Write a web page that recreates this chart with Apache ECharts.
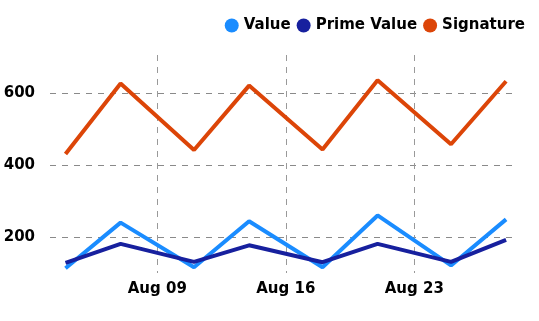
<!DOCTYPE html>
<html>
<head>
<meta charset="utf-8">
<script src="https://cdn.jsdelivr.net/npm/echarts@6/dist/echarts.min.js"></script>
<style>
html,body{margin:0;padding:0;background:#fff;}
#chart{width:539px;height:321px;}
</style>
</head>
<body>
<div id="chart"></div>
<script>
// ---- data ----
var dates = ['2020-08-04','2020-08-07','2020-08-11','2020-08-14','2020-08-18','2020-08-21','2020-08-25','2020-08-28'];
var valueSeries = [113, 240, 116, 244, 116, 260, 121, 249];
var primeValueSeries = [128, 181, 131, 177, 130, 181, 131, 192];
var signatureSeries = [431, 627, 442, 621, 443, 636, 458, 633];
var xTickDates = ['2020-08-09','2020-08-16','2020-08-23'];
var yTickValues = [200, 400, 600];
var seriesNames = ['Value', 'Prime Value', 'Signature'];
var colors = ['#1a8cff', '#17209e', '#dc4508'];

function toUTC(s){ var p = s.split('-'); return Date.UTC(+p[0], +p[1]-1, +p[2]); }
var DAY = 86400000;
var xMin = toUTC('2020-08-03') + 0.155 * DAY;
var xMax = toUTC('2020-08-28') + 0.486 * DAY;
var months = ['Jan','Feb','Mar','Apr','May','Jun','Jul','Aug','Sep','Oct','Nov','Dec'];
function fmtDate(v){ var d = new Date(v); var dd = d.getUTCDate(); return months[d.getUTCMonth()] + ' ' + (dd < 10 ? '0' + dd : dd); }

function pairs(arr){ return dates.map(function(d, i){ return [toUTC(d), arr[i]]; }); }
var font = 'DejaVu Sans';
var chart = echarts.init(document.getElementById('chart'), null, {renderer: 'canvas'});
var allData = [valueSeries, primeValueSeries, signatureSeries];
chart.setOption({
  animation: false,
  color: colors,
  textStyle: {fontFamily: font},
  legend: {
    right: 9, top: 13,
    icon: 'circle', itemWidth: 14, itemHeight: 14, itemGap: 6,
    textStyle: {fontFamily: font, fontWeight: 'bold', fontSize: 15, color: '#000'},
    data: seriesNames
  },
  grid: {left: 50, right: 24, top: 55, bottom: 48, containLabel: false},
  xAxis: {
    type: 'value', min: xMin, max: xMax,
    axisLine: {show: false},
    axisTick: {show: false, customValues: xTickDates.map(toUTC)},
    axisLabel: {customValues: xTickDates.map(toUTC), formatter: fmtDate, fontFamily: font, fontWeight: 'bold', fontSize: 15, color: '#000', margin: 9},
    splitLine: {show: true, lineStyle: {color: '#999', type: [6, 6], width: 1}}
  },
  yAxis: {
    type: 'value', min: 100, max: 706,
    axisLine: {show: false},
    axisTick: {show: false, customValues: yTickValues},
    axisLabel: {customValues: yTickValues, fontFamily: font, fontWeight: 'bold', fontSize: 15, color: '#000', margin: 15},
    splitLine: {show: true, lineStyle: {color: '#8a8a8a', type: [6, 6], width: 1}}
  },
  series: seriesNames.map(function(n, i){
    return {name: n, type: 'line', data: pairs(allData[i]), showSymbol: false, symbol: 'none',
      lineStyle: {width: 4, color: colors[i]}, itemStyle: {color: colors[i]}};
  })
});
</script>
</body>
</html>
